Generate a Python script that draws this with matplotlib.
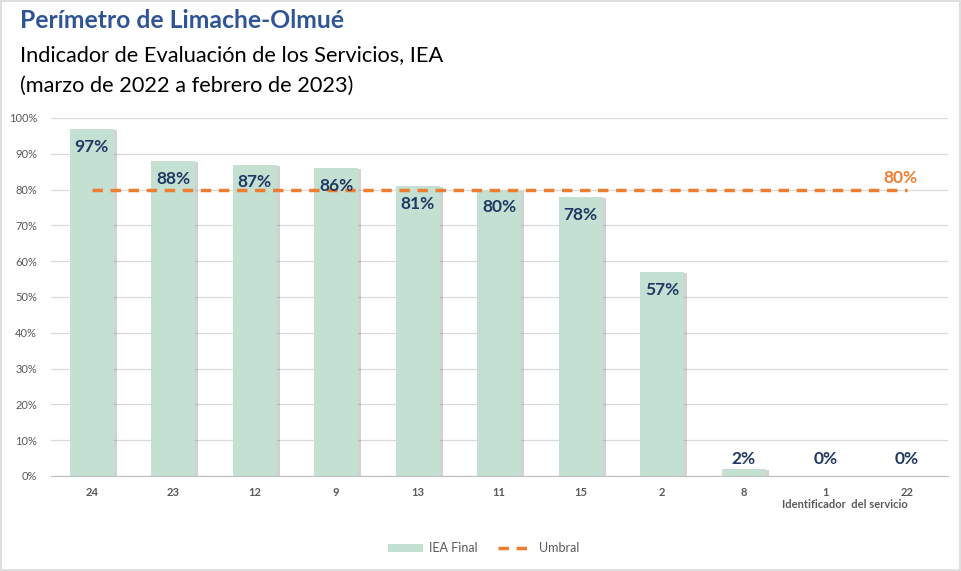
import matplotlib
matplotlib.use("Agg")
import matplotlib.pyplot as plt
import matplotlib.patheffects as pe
from matplotlib.lines import Line2D
from matplotlib.patches import Patch, Rectangle

plt.rcParams['font.family'] = ['Lato', 'DejaVu Sans']

# data
servicios = ['24', '23', '12', '9', '13', '11', '15', '2', '8', '1', '22']
iea_final = [97, 88, 87, 86, 81, 80, 78, 57, 2, 0, 0]
umbral = 80

bar_color = '#C3E0D2'
orange = '#ED7D31'
navy = '#1F3864'
gray_txt = '#595959'

fig = plt.figure(figsize=(9.62, 5.71), dpi=100)
ax = fig.add_axes([0.053, 0.1664, 0.932, 0.627])

x = list(range(len(servicios)))
bars = ax.bar(x, iea_final, width=0.54, color=bar_color, zorder=2)
for b in bars:
    b.set_path_effects([pe.SimplePatchShadow(offset=(2, -1), alpha=0.35, shadow_rgbFace='#808080'), pe.Normal()])

ax.plot([x[0], x[-1]], [umbral, umbral], color=orange, lw=2.5, ls=(0, (3, 2.2)), zorder=3)
ax.text(x[-1] - 0.08, umbral + 1.0, f'{umbral}%', color=orange, fontsize=12.5,
        fontweight='bold', ha='center', va='bottom')

for xi, v in zip(x, iea_final):
    ypos = max(v - 5, 4.7)
    ax.text(xi, ypos, f'{v}%', ha='center', va='center', fontsize=12.5,
            fontweight='bold', color=navy, zorder=4)

ax.set_xlim(-0.5, len(servicios) - 0.5)
ax.set_ylim(0, 100)
ax.set_yticks(range(0, 101, 10))
ax.set_yticklabels([f'{t}%' for t in range(0, 101, 10)], fontsize=8, color=gray_txt)
ax.set_xticks(x)
ax.set_xticklabels(servicios, fontsize=8, color=gray_txt, fontweight='bold')
ax.tick_params(length=0, pad=8)
ax.tick_params(axis='y', pad=10)
ax.grid(axis='y', color='#D9D9D9', lw=0.9, zorder=0)
ax.set_axisbelow(True)
for s in ['top', 'right', 'left']:
    ax.spines[s].set_visible(False)
ax.spines['bottom'].set_color('#BFBFBF')

fig.text(845 / 962, 1 - 504 / 571, 'Identificador  del servicio', fontsize=8,
         fontweight='bold', color=gray_txt, ha='center', va='center')

fig.text(20 / 962, 1 - 20 / 571, 'Perímetro de Limache-Olmué', fontsize=17.8,
         fontweight='bold', color='#2F5597', va='center')
fig.text(20 / 962, 1 - 55 / 571, 'Indicador de Evaluación de los Servicios, IEA',
         fontsize=15.7, color='black', va='center')
fig.text(20 / 962, 1 - 86 / 571, '(marzo de 2022 a febrero de 2023)',
         fontsize=15.7, color='black', va='center')

handles = [Patch(facecolor=bar_color, label='IEA Final'),
           Line2D([0], [0], color=orange, lw=2.5, ls=(0, (3, 2.2)), label='Umbral')]
fig.legend(handles=handles, loc='center', bbox_to_anchor=(484 / 962, 1 - 548 / 571),
           ncol=2, frameon=False, fontsize=9, labelcolor=gray_txt,
           handlelength=2.8, handleheight=0.6, handletextpad=0.5, columnspacing=1.6)

fig.add_artist(Rectangle((0.001, 0.001), 0.997, 0.997, transform=fig.transFigure,
                         fill=False, edgecolor='#D9D9D9', lw=1.2))

fig.savefig('out.png', dpi=100)
